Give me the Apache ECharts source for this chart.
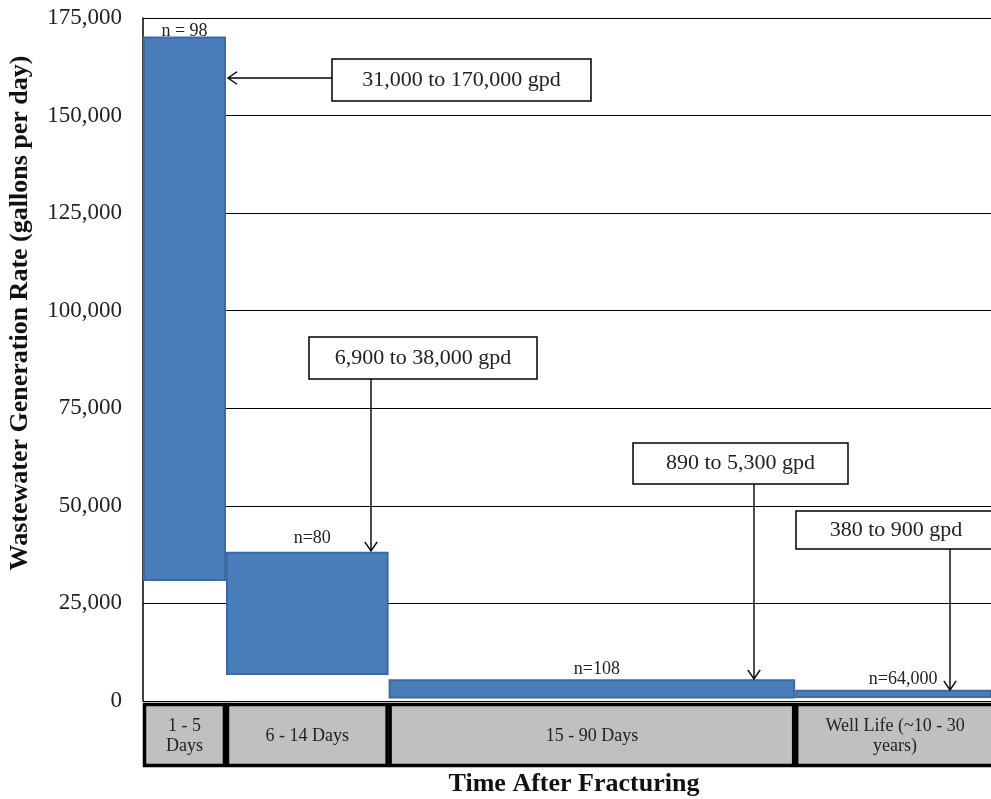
<!DOCTYPE html>
<html>
<head>
<meta charset="utf-8">
<script src="https://cdn.jsdelivr.net/npm/echarts@6/dist/echarts.min.js"></script>
<style>
html,body{margin:0;padding:0;background:#fff;}
#chart{width:991px;height:799px;}
</style>
</head>
<body>
<div id="chart"></div>
<script>
// ---- data ----
const categories = ['1 - 5\nDays', '6 - 14 Days', '15 - 90 Days', 'Well Life (~10 - 30\nyears)'];
const spanWidths = [1, 1.96, 4.9, 2.5];           // relative width of each period along the x axis
const lowValues  = [31000, 6900, 890, 1000];       // bar bottoms (gpd) as drawn
const highValues = [170000, 38000, 5300, 2600];    // bar tops (gpd) as drawn
const sampleLabels = ['n = 98', 'n=80', 'n=108', 'n=64,000'];
const rangeLabels = ['31,000 to 170,000 gpd', '6,900 to 38,000 gpd', '890 to 5,300 gpd', '380 to 900 gpd'];
const yTicks = [0, 25000, 50000, 75000, 100000, 125000, 150000, 175000];

// cumulative x starts built from widths
const starts = [];
let acc = 0;
spanWidths.forEach(w => { starts.push(acc); acc += w; });
const barData = categories.map((c, i) => [starts[i], starts[i] + spanWidths[i], lowValues[i], highValues[i], i]);
const boxData = categories.map((c, i) => [starts[i], starts[i] + spanWidths[i], i]);
const xMax = 10.22;

const SERIF = '"Liberation Serif", "Times New Roman", serif';
const chart = echarts.init(document.getElementById('chart'), null, {renderer: 'canvas'});

function renderBar(params, api) {
  const x0 = api.value(0), x1 = api.value(1), lo = api.value(2), hi = api.value(3);
  const p0 = api.coord([x0, hi]);
  const p1 = api.coord([x1, lo]);
  const cs = params.coordSys;
  const rect = echarts.graphic.clipRectByRect(
    {x: p0[0] + 1, y: p0[1], width: p1[0] - p0[0] - 2, height: Math.max(p1[1] - p0[1], 2)},
    {x: cs.x, y: cs.y, width: cs.width, height: cs.height}
  );
  if (!rect) return null;
  const idx = api.value(4);
  const lbl = sampleLabels[idx];
  const offsets = [[0, -6], [5, -14], [5, -11], [10, -12]];
  return {
    type: 'group',
    children: [
      {type: 'rect', shape: rect, style: {fill: '#4a7ebb', stroke: '#3d6a9e', lineWidth: 2}},
      {type: 'text', style: {text: lbl, x: (p0[0] + Math.min(p1[0], cs.x + cs.width)) / 2 + offsets[idx][0],
        y: p0[1] + offsets[idx][1], align: 'center', verticalAlign: 'middle', fill: '#222', font: '18px ' + SERIF}}
    ]
  };
}

function renderBox(params, api) {
  const x0 = api.value(0), x1 = api.value(1);
  const p0 = api.coord([x0, 1]);
  const p1 = api.coord([x1, 0]);
  const cs = params.coordSys;
  const right = Math.min(p1[0], cs.x + cs.width + 4);
  const idx = api.value(2);
  const cx = (p0[0] + Math.min(p1[0], cs.x + cs.width)) / 2;
  return {
    type: 'group',
    children: [
      {type: 'rect', shape: {x: p0[0] + 1.5, y: p0[1] + 1.5, width: right - p0[0] - 3, height: p1[1] - p0[1] - 3},
        style: {fill: '#c0c0c0', stroke: '#000', lineWidth: 3.5}},
      {type: 'text', style: {text: categories[idx], x: idx === 3 ? cx + 2 : cx, y: (p0[1] + p1[1]) / 2 + 1,
        align: 'center', verticalAlign: 'middle', fill: '#222', font: '18px ' + SERIF, lineHeight: 20}}
    ]
  };
}

function annBox(cx, top, w, h, text) {
  return [
    {type: 'rect', shape: {x: cx, y: top, width: w, height: h}, style: {fill: '#fff', stroke: '#000', lineWidth: 1.5}, z: 10},
    {type: 'text', style: {text: text, x: cx + w / 2, y: top + h / 2, align: 'center', verticalAlign: 'middle', fill: '#222', font: '22px ' + SERIF}, z: 11}
  ];
}
function arrow(x1, y1, x2, y2) {
  const ang = Math.atan2(y2 - y1, x2 - x1);
  const L = 11, a = 0.6;
  return [
    {type: 'line', shape: {x1, y1, x2, y2}, style: {stroke: '#000', lineWidth: 1.4}, z: 12},
    {type: 'polyline', shape: {points: [
      [x2 - L * Math.cos(ang - a), y2 - L * Math.sin(ang - a)], [x2, y2],
      [x2 - L * Math.cos(ang + a), y2 - L * Math.sin(ang + a)]]}, style: {stroke: '#000', lineWidth: 1.4, fill: null}, z: 12}
  ];
}

const option = {
  animation: false,
  backgroundColor: '#fff',
  grid: [
    {left: 143, right: 0, top: 18, height: 683},
    {left: 143, right: 0, top: 703, height: 64}
  ],
  xAxis: [
    {gridIndex: 0, type: 'value', min: 0, max: xMax, show: false},
    {gridIndex: 1, type: 'value', min: 0, max: xMax, show: false}
  ],
  yAxis: [
    {gridIndex: 0, type: 'value', min: yTicks[0], max: yTicks[yTicks.length - 1], interval: 25000,
      axisLine: {show: true, lineStyle: {color: '#000', width: 1.5}},
      axisTick: {show: false},
      splitLine: {lineStyle: {color: '#000', width: 1.2}},
      axisLabel: {margin: 21, color: '#222', fontFamily: SERIF, fontSize: 23,
        formatter: v => v.toLocaleString('en-US')}},
    {gridIndex: 1, type: 'value', min: 0, max: 1, show: false}
  ],
  series: [
    {type: 'custom', xAxisIndex: 0, yAxisIndex: 0, renderItem: renderBar, data: barData, clip: false, z: 5},
    {type: 'custom', xAxisIndex: 1, yAxisIndex: 1, renderItem: renderBox, data: boxData, clip: false, z: 5}
  ],
  graphic: [
    {type: 'text', rotation: Math.PI / 2, x: 20, y: 313,
      style: {text: 'Wastewater Generation Rate (gallons per day)', align: 'center', verticalAlign: 'middle',
        fill: '#111', font: 'bold 26px ' + SERIF}},
    {type: 'text', x: 574, y: 784,
      style: {text: 'Time After Fracturing', align: 'center', verticalAlign: 'middle', fill: '#111', font: 'bold 26px ' + SERIF}},
    ...annBox(332, 59, 259, 42, rangeLabels[0]),
    ...arrow(332, 78, 228, 78),
    ...annBox(309, 337, 228, 42, rangeLabels[1]),
    ...arrow(371, 379, 371, 551),
    ...annBox(633, 443, 215, 41, rangeLabels[2]),
    ...arrow(754, 484, 754, 679),
    ...annBox(796, 511, 200, 38, rangeLabels[3]),
    ...arrow(950, 549, 950, 690)
  ]
};
chart.setOption(option);
</script>
</body>
</html>
